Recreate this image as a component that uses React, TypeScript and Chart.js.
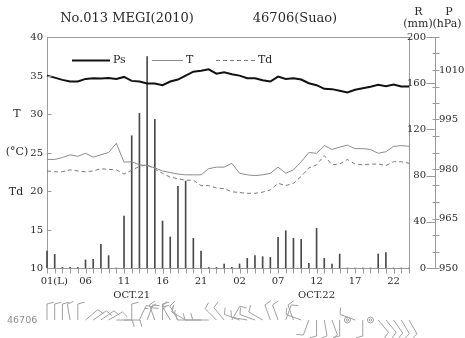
import React, { useEffect, useRef } from 'react';
import { Chart, registerables } from 'chart.js';

Chart.register(...registerables);

// ---------- data ----------
const HOURS = [
  '01','02','03','04','05','06','07','08','09','10','11','12','13','14','15','16','17','18','19','20','21','22','23','24',
  '01','02','03','04','05','06','07','08','09','10','11','12','13','14','15','16','17','18','19','20','21','22','23','24',
];
const RAIN = [
  14.7, 11.8, 0.5, 0.5, 0.5, 7, 7.5, 20.5, 10.7, 0, 45, 114.5, 134, 183, 128.7, 40.7, 26.9, 70.7, 75.3, 25.7, 14.7, 0.5, 0.5, 3.5,
  0.5, 3.5, 8.4, 10.7, 9.8, 9.2, 26.6, 32.3, 25.7, 24.8, 4, 34.3, 8.4, 3.5, 12.1, 0, 0, 0, 0, 12.1, 13.3, 0, 0, 0,
];
const PS = [
  1008.3, 1007.7, 1007.0, 1006.5, 1006.5, 1007.3, 1007.5, 1007.4, 1007.6, 1007.3, 1007.9, 1006.7, 1006.5, 1005.9, 1005.9, 1005.4,
  1006.5, 1007.1, 1008.3, 1009.5, 1009.8, 1010.2, 1008.9, 1009.3, 1008.7, 1008.3, 1007.5, 1007.5, 1006.9, 1006.5, 1008.0, 1007.3,
  1007.5, 1007.1, 1006.0, 1005.4, 1004.3, 1004.2, 1003.7, 1003.2, 1004.0, 1004.5, 1004.9, 1005.5, 1005.1, 1005.6, 1005.0, 1005.0,
];
const TEMP = [
  24.1, 24.1, 24.35, 24.7, 24.5, 24.9, 24.4, 24.7, 25.0, 26.2, 23.75, 23.8, 23.4, 23.3, 23.0, 22.6,
  22.4, 22.2, 22.1, 22.1, 22.1, 22.9, 23.1, 23.1, 23.6, 22.3, 22.1, 22.0, 22.1, 22.3, 23.1, 22.3,
  22.75, 23.8, 25.0, 24.9, 25.9, 25.4, 25.7, 25.95, 25.5, 25.5, 25.4, 24.9, 25.1, 25.8, 25.9, 25.8,
];
const DEW = [
  22.6, 22.5, 22.5, 22.75, 22.6, 22.5, 22.6, 22.9, 22.8, 22.75, 22.2, 22.7, 23.2, 23.4, 22.85, 22.3,
  21.8, 21.6, 21.4, 21.4, 20.7, 20.7, 20.4, 20.3, 19.9, 19.8, 19.7, 19.7, 19.85, 20.15, 21.0, 20.7,
  21.0, 21.9, 23.0, 23.4, 24.6, 23.4, 23.5, 24.1, 23.5, 23.4, 23.5, 23.5, 23.3, 23.8, 23.8, 23.6,
];
// wind direction (deg, from) and speed (kt); speed 0 = calm
const WIND_DIR = [
  0, 0, 0, 350, 0, 50, 55, 55, 60, 90, 90, 0, 25, 20, 340, 0, 330, 330, 300, 270, 270, 270, 315, 320,
  30, 290, 280, 290, 300, 340, 340, 20, 340, 290, 200, 180, 170, 160, 180, 0, 290, 180, 0, 140, 140, 145, 150, 150,
];
const WIND_SPD = [
  10, 10, 10, 10, 10, 10, 10, 10, 10, 10, 10, 10, 15, 20, 20, 20, 15, 15, 15, 10, 10, 10, 10, 10,
  10, 10, 10, 10, 10, 10, 10, 10, 10, 10, 10, 10, 10, 10, 10, 0, 10, 10, 0, 10, 10, 10, 10, 10,
];

const T_TICKS = [10, 15, 20, 25, 30, 35, 40];
const R_TICKS = [0, 40, 80, 120, 160, 200];
const P_MINOR = [950, 955, 960, 965, 970, 975, 980, 985, 990, 995, 1000, 1005, 1010, 1015, 1020];
const P_TICKS = [950, 965, 980, 995, 1010];
const X_LABELS = ['01(L)', '06', '11', '16', '21', '02', '07', '12', '17', '22'];
const X_LABEL_AT = [0, 5, 10, 15, 20, 25, 30, 35, 40, 45];
const DATES = ['OCT.21', 'OCT.22'];
const DATE_AT = [11, 35];
const TITLE_LEFT = 'No.013 MEGI(2010)';
const TITLE_RIGHT = '46706(Suao)';
const STATION = '46706';

const SERIF = '"DejaVu Serif", serif';
const FRAME = '#9a9a9a';
const TEXT = '#2a2a2a';
const BARB = '#a0a0a0';

function drawBarb(ctx: CanvasRenderingContext2D, bx: number, by: number, dir: number, spd: number, L: number) {
  if (spd < 2.5) {
    ctx.beginPath();
    ctx.arc(bx, by, 3, 0, Math.PI * 2);
    ctx.stroke();
    ctx.beginPath();
    ctx.arc(bx, by, 1.2, 0, Math.PI * 2);
    ctx.stroke();
    return;
  }
  const r = (dir * Math.PI) / 180;
  const ux = Math.sin(r);
  const uy = -Math.cos(r);
  const tx = bx + ux * L;
  const ty = by + uy * L;
  ctx.beginPath();
  ctx.moveTo(bx, by);
  ctx.lineTo(tx, ty);
  const th = (75 * Math.PI) / 180;
  const fx = ux * Math.cos(th) - uy * Math.sin(th);
  const fy = ux * Math.sin(th) + uy * Math.cos(th);
  let s = Math.round(spd / 5) * 5;
  let pos = 0;
  while (s >= 10) {
    const sx = tx - ux * pos;
    const sy = ty - uy * pos;
    ctx.moveTo(sx, sy);
    ctx.lineTo(sx + fx * 7, sy + fy * 7);
    s -= 10;
    pos += 3;
  }
  if (s >= 5) {
    if (pos === 0) pos = 3;
    const sx = tx - ux * pos;
    const sy = ty - uy * pos;
    ctx.moveTo(sx, sy);
    ctx.lineTo(sx + fx * 3.5, sy + fy * 3.5);
  }
  ctx.stroke();
}

const overlay = {
  id: 'overlay',
  beforeDatasetsDraw(chart: any) {
    const { ctx, chartArea: a } = chart;
    const L = Math.round(a.left) + 0.5;
    const Rr = Math.round(a.right) + 0.5;
    const Tp = Math.round(a.top) + 0.5;
    const B = Math.round(a.bottom) + 0.5;
    ctx.save();
    ctx.strokeStyle = FRAME;
    ctx.lineWidth = 1;
    ctx.strokeRect(L, Tp, Rr - L, B - Tp);
    ctx.restore();
  },
  afterDraw(chart: any) {
    const { ctx, chartArea: a, scales } = chart;
    const x = scales.x;
    const yT = scales.T;
    const yR = scales.R;
    const yP = scales.P;
    const L = Math.round(a.left) + 0.5;
    const Tp = Math.round(a.top) + 0.5;
    const B = Math.round(a.bottom) + 0.5;
    ctx.save();
    ctx.strokeStyle = FRAME;
    ctx.lineWidth = 1;

    // left axis ticks (inward) and labels
    ctx.font = `10px ${SERIF}`;
    ctx.fillStyle = TEXT;
    ctx.textAlign = 'right';
    ctx.textBaseline = 'middle';
    ctx.beginPath();
    T_TICKS.forEach((v) => {
      const py = Math.round(yT.getPixelForValue(v)) + 0.5;
      ctx.moveTo(L, py);
      ctx.lineTo(L + 4, py);
      ctx.fillText(String(v), a.left - 4, py);
    });
    ctx.stroke();

    // left axis titles
    ctx.textAlign = 'center';
    ctx.font = `11px ${SERIF}`;
    ctx.fillText('T', 17, yT.getPixelForValue(30));
    ctx.fillText('(°C)', 17, yT.getPixelForValue(25));
    ctx.fillText('Td', 16, yT.getPixelForValue(20) + 1);

    // x ticks
    ctx.beginPath();
    for (let i = 0; i < HOURS.length; i++) {
      const px = Math.round(x.getPixelForValue(i)) + 0.5;
      ctx.moveTo(px, B);
      ctx.lineTo(px, B + 5);
    }
    ctx.stroke();
    ctx.font = `10px ${SERIF}`;
    ctx.textBaseline = 'middle';
    X_LABELS.forEach((lab, k) => {
      const px = x.getPixelForValue(X_LABEL_AT[k]);
      if (k === 0) {
        ctx.textAlign = 'left';
        ctx.fillText(lab, px - ctx.measureText('01').width / 2, a.bottom + 13);
      } else {
        ctx.textAlign = 'center';
        ctx.fillText(lab, px, a.bottom + 13);
      }
    });
    ctx.textAlign = 'center';
    DATES.forEach((d, k) => {
      ctx.fillText(d, x.getPixelForValue(DATE_AT[k]), a.bottom + 27);
    });

    // right axes: shared vertical line
    const ax = Math.round(a.right) + 26.5;
    ctx.beginPath();
    ctx.moveTo(ax, Tp);
    ctx.lineTo(ax, B);
    R_TICKS.forEach((v) => {
      const py = Math.round(yR.getPixelForValue(v)) + 0.5;
      ctx.moveTo(ax - 9, py);
      ctx.lineTo(ax, py);
    });
    P_MINOR.forEach((v) => {
      const py = Math.round(yP.getPixelForValue(v)) + 0.5;
      ctx.moveTo(ax - 3, py);
      ctx.lineTo(ax + 4, py);
    });
    ctx.stroke();
    ctx.textAlign = 'right';
    R_TICKS.forEach((v) => {
      ctx.fillText(String(v), ax - 9.5, yR.getPixelForValue(v));
    });
    ctx.textAlign = 'left';
    P_TICKS.forEach((v) => {
      ctx.fillText(String(v), ax + 3.5, yP.getPixelForValue(v));
    });
    ctx.textAlign = 'center';
    ctx.font = `11px ${SERIF}`;
    ctx.fillText('R', 418.5, 12);
    ctx.fillText('(mm)', 418, 24);
    ctx.fillText('P', 449, 12);
    ctx.fillText('(hPa)', 447, 24);

    // titles
    ctx.font = `13px ${SERIF}`;
    ctx.fillText(TITLE_LEFT, 127, 19);
    ctx.fillText(TITLE_RIGHT, 295, 19);

    // legend inside plot
    const ly = Math.round(a.top + 23) + 0.5;
    const items = [
      { ds: chart.data.datasets[0], x0: 72, x1: 110 },
      { ds: chart.data.datasets[1], x0: 152, x1: 183 },
      { ds: chart.data.datasets[2], x0: 216, x1: 255 },
    ];
    ctx.font = `11px ${SERIF}`;
    ctx.textAlign = 'left';
    items.forEach((it) => {
      ctx.save();
      ctx.strokeStyle = it.ds.borderColor;
      ctx.lineWidth = it.ds.borderWidth;
      ctx.setLineDash(it.ds.borderDash || []);
      ctx.beginPath();
      ctx.moveTo(it.x0, ly);
      ctx.lineTo(it.x1, ly);
      ctx.stroke();
      ctx.restore();
      ctx.fillText(it.ds.label, it.x1 + 3, ly);
    });

    // wind barbs
    ctx.strokeStyle = BARB;
    ctx.lineWidth = 1;
    const by = a.bottom + 52;
    for (let i = 0; i < WIND_DIR.length; i++) {
      drawBarb(ctx, x.getPixelForValue(i), by, WIND_DIR[i], WIND_SPD[i], 16);
    }
    ctx.fillStyle = '#8a8a8a';
    ctx.font = '9.5px "DejaVu Sans", sans-serif';
    ctx.textAlign = 'left';
    ctx.fillText(STATION, 7, by + 1);

    ctx.restore();
  },
};

export default function App() {
  const ref = useRef<HTMLCanvasElement | null>(null);
  useEffect(() => {
    document.body.style.margin = '0';
    const canvas = ref.current!;
    const chart = new Chart(canvas, {
      type: 'bar',
      data: {
        labels: HOURS,
        datasets: [
          { type: 'line', label: 'Ps', data: PS, yAxisID: 'P', borderColor: '#111111', borderWidth: 2, pointRadius: 0, tension: 0 } as any,
          { type: 'line', label: 'T', data: TEMP, yAxisID: 'T', borderColor: '#8c8c8c', borderWidth: 1, pointRadius: 0, tension: 0 } as any,
          { type: 'line', label: 'Td', data: DEW, yAxisID: 'T', borderColor: '#7a7a7a', borderWidth: 1, borderDash: [4, 3], pointRadius: 0, tension: 0 } as any,
          { type: 'bar', label: 'R', data: RAIN, yAxisID: 'R', backgroundColor: '#4a4a4a', barThickness: 1, clip: 2 } as any,
        ],
      },
      options: {
        responsive: false,
        animation: false,
        devicePixelRatio: 1,
        events: [],
        layout: { padding: { left: 47, right: 56, top: 37, bottom: 70 } },
        plugins: { legend: { display: false }, tooltip: { enabled: false } },
        scales: {
          x: { type: 'category', offset: false, display: false },
          T: { type: 'linear', position: 'left', min: 10, max: 40, display: false },
          R: { type: 'linear', position: 'right', min: 0, max: 200, display: false },
          P: { type: 'linear', position: 'right', min: 950, max: 1020, display: false },
        },
      } as any,
      plugins: [overlay],
    });
    return () => chart.destroy();
  }, []);
  return <canvas ref={ref} width={465} height={338} style={{ display: 'block' }} />;
}
